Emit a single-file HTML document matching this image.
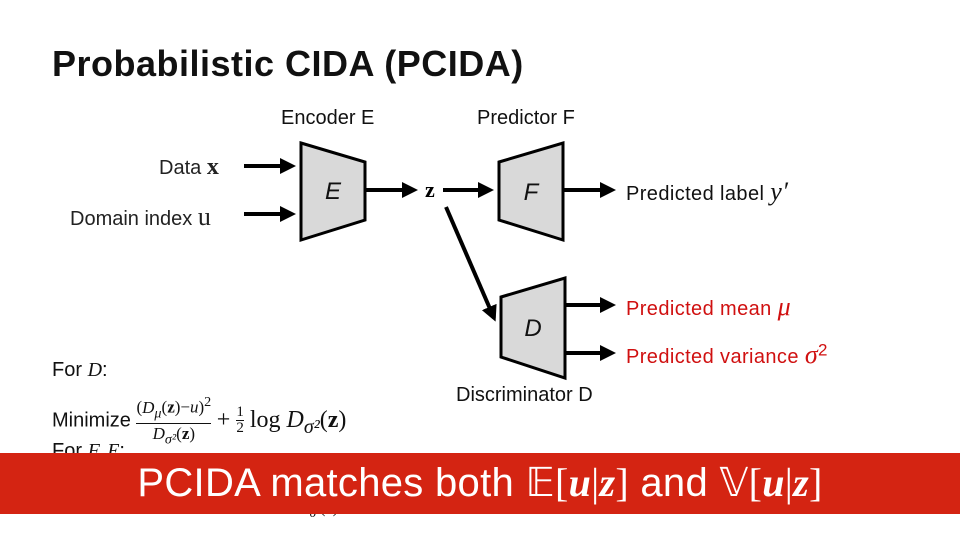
<!DOCTYPE html>
<html><head><meta charset="utf-8"><style>
body{margin:0;width:960px;height:540px;background:#fff;position:relative;overflow:hidden;font-family:"Liberation Sans",sans-serif;}
.t{position:absolute;white-space:nowrap;}
.m{font-family:"Liberation Serif",serif;}
</style></head><body>
<div class="t" style="left:52px;top:43px;font-size:36px;font-weight:bold;color:#111;letter-spacing:0.5px;">Probabilistic CIDA (PCIDA)</div>
<div class="t" style="left:281px;top:107px;font-size:20px;color:#111;">Encoder E</div>
<div class="t" style="left:477px;top:107px;font-size:20px;color:#111;">Predictor F</div>
<div class="t" style="left:159px;top:154px;font-size:20px;color:#222;">Data <b class="m" style="font-size:24px">x</b></div>
<div class="t" style="left:70px;top:202px;font-size:20px;color:#222;">Domain index <span class="m" style="font-size:26px">u</span></div>
<div class="t" style="left:626px;top:177px;font-size:20px;color:#111;letter-spacing:0.4px;">Predicted label <i class="m" style="font-size:26px">y′</i></div>
<div class="t" style="left:626px;top:292px;font-size:20px;color:#d01010;letter-spacing:0.4px;">Predicted mean <i class="m" style="font-size:26px">μ</i></div>
<div class="t" style="left:626px;top:340px;font-size:20px;color:#d01010;letter-spacing:0.4px;">Predicted variance <i class="m" style="font-size:26px">σ</i><sup style="font-size:17px">2</sup></div>
<div class="t" style="left:456px;top:384px;font-size:20px;color:#111;">Discriminator D</div>
<div class="t" style="left:52px;top:359px;font-size:20px;color:#111;">For <i class="m">D</i>:</div>
<div class="t" style="left:52px;top:393px;font-size:20px;color:#111;">Minimize <span class="m" style="display:inline-block;vertical-align:middle;text-align:center;font-size:17px;line-height:19px"><span style="display:block;border-bottom:1px solid #111">(<i>D<sub>μ</sub></i>(<b>z</b>)−<i>u</i>)<sup>2</sup></span><span style="display:block"><i>D<sub>σ²</sub></i>(<b>z</b>)</span></span> <span class="m" style="font-size:24px">+ <span style="display:inline-block;vertical-align:middle;text-align:center;font-size:15px;line-height:15px"><span style="display:block;border-bottom:1px solid #111">1</span><span style="display:block">2</span></span> log <i>D<sub>σ²</sub></i>(<b>z</b>)</span></div>
<div class="t" style="left:52px;top:440px;font-size:20px;color:#111;">For <i class="m">F, E</i>:</div>
<div class="t m" style="left:298px;top:500px;font-size:16px;color:#111;"><i>D<sub>σ²</sub></i>(<b>z</b>) &nbsp;&nbsp;&nbsp;&nbsp;&nbsp;&nbsp;&nbsp;&nbsp;&nbsp; 2</div>
<div style="position:absolute;left:0;top:453px;width:960px;height:61px;background:#d42412;"></div>
<div class="t" style="left:0;width:960px;text-align:center;top:459px;font-size:40px;color:#fff;letter-spacing:0.3px;">PCIDA matches both <span class="m">𝔼[<b><i>u</i></b>|<b><i>z</i></b>]</span> and <span class="m">𝕍[<b><i>u</i></b>|<b><i>z</i></b>]</span></div>
<svg width="960" height="540" style="position:absolute;left:0;top:0" >
<defs><marker id="a" markerWidth="4" markerHeight="4" refX="3" refY="2" orient="auto" markerUnits="strokeWidth"><path d="M0,0 L4,2 L0,4z" fill="#000"/></marker></defs>
<g stroke="#000" stroke-width="3" fill="#d9d9d9">
<polygon points="301,143 365,162 365,220 301,240"/>
<polygon points="499,162 563,143 563,240 499,220"/>
<polygon points="501,297 565,278 565,378 501,357"/>
</g>
<g stroke="#000" stroke-width="4" marker-end="url(#a)">
<line x1="244" y1="166" x2="292" y2="166"/>
<line x1="244" y1="214" x2="292" y2="214"/>
<line x1="366" y1="190" x2="414" y2="190"/>
<line x1="443" y1="190" x2="490" y2="190"/>
<line x1="446" y1="207" x2="494" y2="318"/>
<line x1="564" y1="190" x2="612" y2="190"/>
<line x1="566" y1="305" x2="612" y2="305"/>
<line x1="566" y1="353" x2="612" y2="353"/>
</g>
<text x="425" y="197" font-family="Liberation Serif" font-weight="bold" font-size="22">z</text>
<g font-family="Liberation Sans" font-style="italic" font-size="24" fill="#111" text-anchor="middle">
<text x="333" y="199">E</text><text x="531" y="200">F</text><text x="533" y="336">D</text>
</g>
</svg>
</body></html>
